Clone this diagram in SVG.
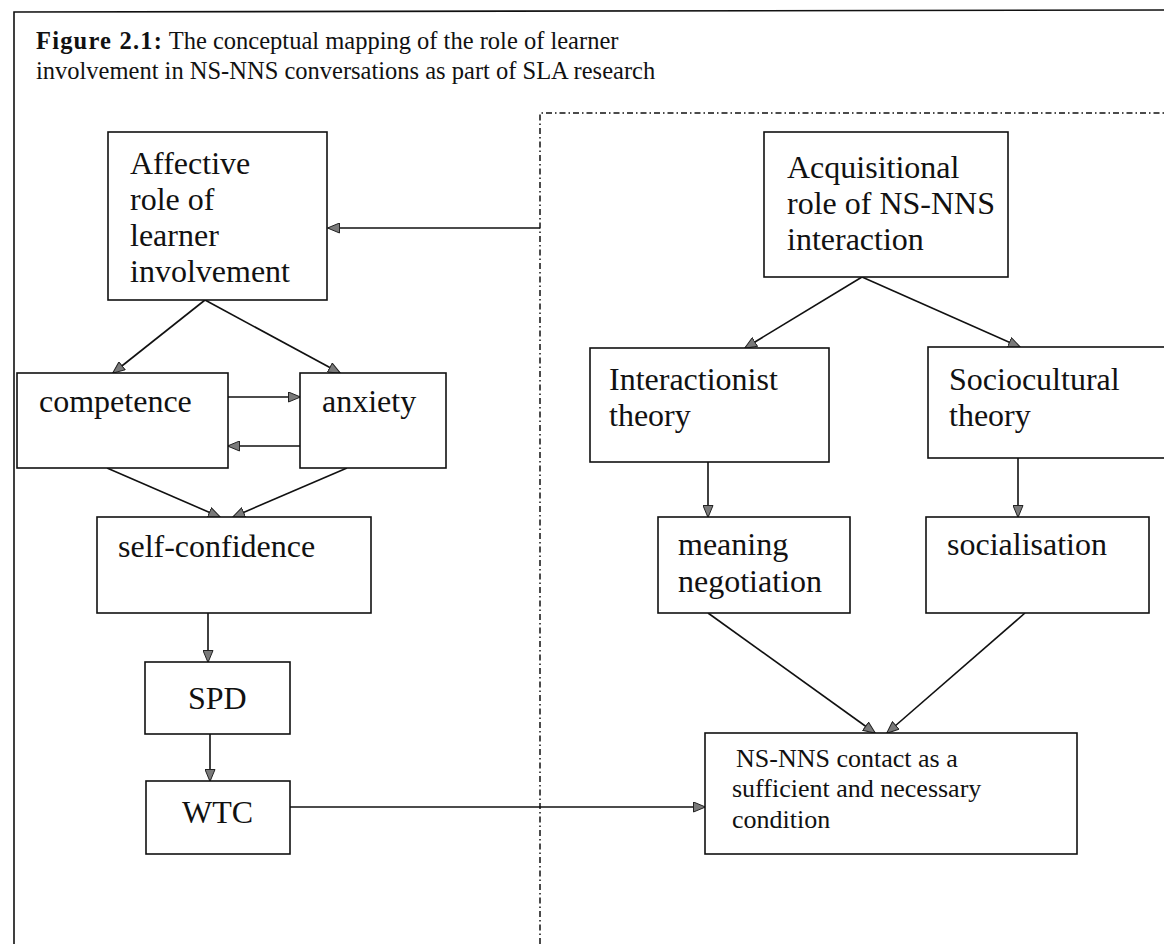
<svg xmlns="http://www.w3.org/2000/svg" width="1164" height="944" viewBox="0 0 1164 944">
  <defs>
    <marker id="arr" viewBox="0 0 13 11" refX="12" refY="5.5" markerWidth="13" markerHeight="11" markerUnits="userSpaceOnUse" orient="auto">
      <path d="M0.5,0.5 L12.5,5.5 L0.5,10.5 Z" fill="#7a7a7a" stroke="#222" stroke-width="1"/>
    </marker>
  </defs>
  <style>
    .box { fill: #fff; stroke: #111; stroke-width: 1.6; }
    .t { font-family: "Liberation Serif", "Times New Roman", serif; font-size: 32px; fill: #111; }
    .ts { font-family: "Liberation Serif", "Times New Roman", serif; font-size: 26px; fill: #111; }
    .title { font-family: "Liberation Serif", "Times New Roman", serif; font-size: 24.5px; fill: #111; }
    .edge { fill: none; stroke: #111; stroke-width: 1.6; marker-end: url(#arr); }
    .frame { fill: none; stroke: #111; stroke-width: 1.6; }
    .divider { fill: none; stroke: #111; stroke-width: 1.5; stroke-dasharray: 6 3 1.5 3; }
  </style>
  <rect width="1164" height="944" fill="#fff"/>

  <!-- outer frame (top and left rules) -->
  <path class="frame" d="M14,944 L14,12 L1164,10"/>

  <!-- caption -->
  <text class="title" x="36" y="49"><tspan font-weight="bold" letter-spacing="1.2">Figure 2.1:</tspan> The conceptual mapping of the role of learner</text>
  <text class="title" x="36" y="79">involvement in NS-NNS conversations as part of SLA research</text>

  <!-- dash-dot divider between the two halves -->
  <path class="divider" d="M540,944 L540,113 L1164,113"/>

  <!-- connectors -->
  <g id="connectors">
    <line class="edge" x1="540" y1="228" x2="328" y2="228"/>
    <line class="edge" x1="205" y1="300" x2="113" y2="373"/>
    <line class="edge" x1="205" y1="300" x2="340" y2="373"/>
    <line class="edge" x1="228" y1="397" x2="300" y2="397"/>
    <line class="edge" x1="300" y1="446" x2="228" y2="446"/>
    <line class="edge" x1="107" y1="468" x2="220" y2="517"/>
    <line class="edge" x1="347" y1="468" x2="233" y2="517"/>
    <line class="edge" x1="208" y1="613" x2="208" y2="662"/>
    <line class="edge" x1="210" y1="734" x2="210" y2="781"/>
    <line class="edge" x1="290" y1="807" x2="705" y2="807"/>
    <line class="edge" x1="862" y1="277" x2="745" y2="348"/>
    <line class="edge" x1="862" y1="277" x2="1020" y2="347"/>
    <line class="edge" x1="708" y1="462" x2="708" y2="517"/>
    <line class="edge" x1="1018" y1="458" x2="1018" y2="517"/>
    <line class="edge" x1="708" y1="613" x2="875" y2="733"/>
    <line class="edge" x1="1025" y1="613" x2="887" y2="733"/>
  </g>

  <g id="affective">
    <rect class="box" x="108" y="132" width="219" height="168"/>
    <text class="t" x="130" y="174">Affective</text>
    <text class="t" x="130" y="210">role of</text>
    <text class="t" x="130" y="246">learner</text>
    <text class="t" x="130" y="282">involvement</text>
  </g>

  <g id="acquisitional">
    <rect class="box" x="764" y="132" width="244" height="145"/>
    <text class="t" x="787" y="178">Acquisitional</text>
    <text class="t" x="787" y="214">role of NS-NNS</text>
    <text class="t" x="787" y="250">interaction</text>
  </g>

  <g id="competence">
    <rect class="box" x="17" y="373" width="211" height="95"/>
    <text class="t" x="39" y="412">competence</text>
  </g>

  <g id="anxiety">
    <rect class="box" x="300" y="373" width="146" height="95"/>
    <text class="t" x="322" y="412">anxiety</text>
  </g>

  <g id="self-confidence">
    <rect class="box" x="97" y="517" width="274" height="96"/>
    <text class="t" x="118" y="557">self-confidence</text>
  </g>

  <g id="spd">
    <rect class="box" x="145" y="662" width="145" height="72"/>
    <text class="t" x="188" y="709">SPD</text>
  </g>

  <g id="wtc">
    <rect class="box" x="146" y="781" width="144" height="73"/>
    <text class="t" x="182" y="823">WTC</text>
  </g>

  <g id="interactionist">
    <rect class="box" x="590" y="348" width="239" height="114"/>
    <text class="t" x="609" y="390">Interactionist</text>
    <text class="t" x="609" y="426">theory</text>
  </g>

  <g id="sociocultural">
    <rect class="box" x="928" y="347" width="250" height="111"/>
    <text class="t" x="949" y="390">Sociocultural</text>
    <text class="t" x="949" y="426">theory</text>
  </g>

  <g id="meaning-negotiation">
    <rect class="box" x="658" y="517" width="192" height="96"/>
    <text class="t" x="678" y="555">meaning</text>
    <text class="t" x="678" y="592">negotiation</text>
  </g>

  <g id="socialisation">
    <rect class="box" x="926" y="517" width="223" height="96"/>
    <text class="t" x="947" y="555">socialisation</text>
  </g>

  <g id="contact">
    <rect class="box" x="705" y="733" width="372" height="121"/>
    <text class="ts" x="736" y="767">NS-NNS contact as a</text>
    <text class="ts" x="732" y="797">sufficient and necessary</text>
    <text class="ts" x="732" y="828">condition</text>
  </g>
</svg>
